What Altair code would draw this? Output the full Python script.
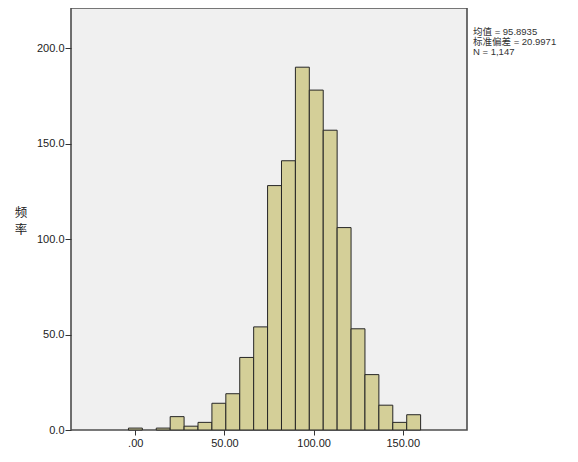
import altair as alt
import pandas as pd

# Histogram bins (left edges, right edges) and frequencies
bin_left = [-3.8, 4.0, 11.8, 19.6, 27.4, 35.2, 43.0, 50.8, 58.6, 66.4, 74.2,
            82.0, 89.8, 97.6, 105.4, 113.2, 121.0, 128.8, 136.6, 144.4, 152.2]
bin_right = [4.0, 11.8, 19.6, 27.4, 35.2, 43.0, 50.8, 58.6, 66.4, 74.2, 82.0,
             89.8, 97.6, 105.4, 113.2, 121.0, 128.8, 136.6, 144.4, 152.2, 160.0]
freq = [1, 0, 1, 7, 2, 4, 14, 19, 38, 54, 128,
        141, 190, 178, 157, 106, 53, 29, 13, 4, 8]

x_ticks = [0, 50, 100, 150]
y_ticks = [0, 50, 100, 150, 200]
y_title_chars = ["频", "率"]
stats_lines = ["均值 = 95.8935", "标准偏差 = 20.9971", "N = 1,147"]

df = pd.DataFrame({"lo": bin_left, "hi": bin_right, "n": freq})
df = df[df["n"] > 0]

FONT = "Liberation Sans, Arial, Noto Sans CJK SC"

x_scale = alt.Scale(domain=[-36, 186], nice=False, zero=False)
y_scale = alt.Scale(domain=[0, 221], nice=False)

bars = alt.Chart(df).mark_rect(
    fill="#D4CF98", stroke="#262626", strokeWidth=1, opacity=1
).encode(
    x=alt.X("lo:Q", scale=x_scale,
            axis=alt.Axis(values=x_ticks, title=None, grid=False, domain=False,
                          labelExpr="datum.value == 0 ? '.00' : format(datum.value, '.2f')",
                          tickSize=5, tickColor="#333", labelColor="#222",
                          labelFont=FONT, labelFontSize=11, labelPadding=2)),
    x2="hi:Q",
    y=alt.Y("n:Q", scale=y_scale,
            axis=alt.Axis(values=y_ticks, format=".1f", grid=False, domain=False,
                          title=None,
                          tickSize=6, tickColor="#333", labelColor="#222",
                          labelFont=FONT, labelFontSize=11, labelPadding=1)),
    y2=alt.datum(0),
)

one = pd.DataFrame({"t": [0]})
title_top = alt.Chart(one).mark_text(
    text=y_title_chars[0], align="center", baseline="middle",
    font="Noto Sans CJK SC", fontSize=12.5, color="#222", clip=False
).encode(x=alt.value(-50), y=alt.value(205))
title_bot = alt.Chart(one).mark_text(
    text=y_title_chars[1], align="center", baseline="middle",
    font="Noto Sans CJK SC", fontSize=12.5, color="#222", clip=False
).encode(x=alt.value(-50), y=alt.value(222))

stats = alt.Chart(one).mark_text(
    text=stats_lines, align="left", baseline="top", font=FONT,
    fontSize=9.5, lineHeight=10, color="#333", clip=False
).encode(x=alt.value(402), y=alt.value(19))

chart = alt.layer(bars, title_top, title_bot, stats).properties(
    width=396, height=422,
    padding={"left": 63, "top": 0, "right": 103, "bottom": 18},
    autosize=alt.AutoSizeParams(type="none"),
    background="#FFFFFF",
).configure_view(
    fill="#F0F0F0", stroke="#4D4D4D", strokeWidth=1.6
)

chart.save("out.html", embed_options={"renderer": "svg", "actions": False})
